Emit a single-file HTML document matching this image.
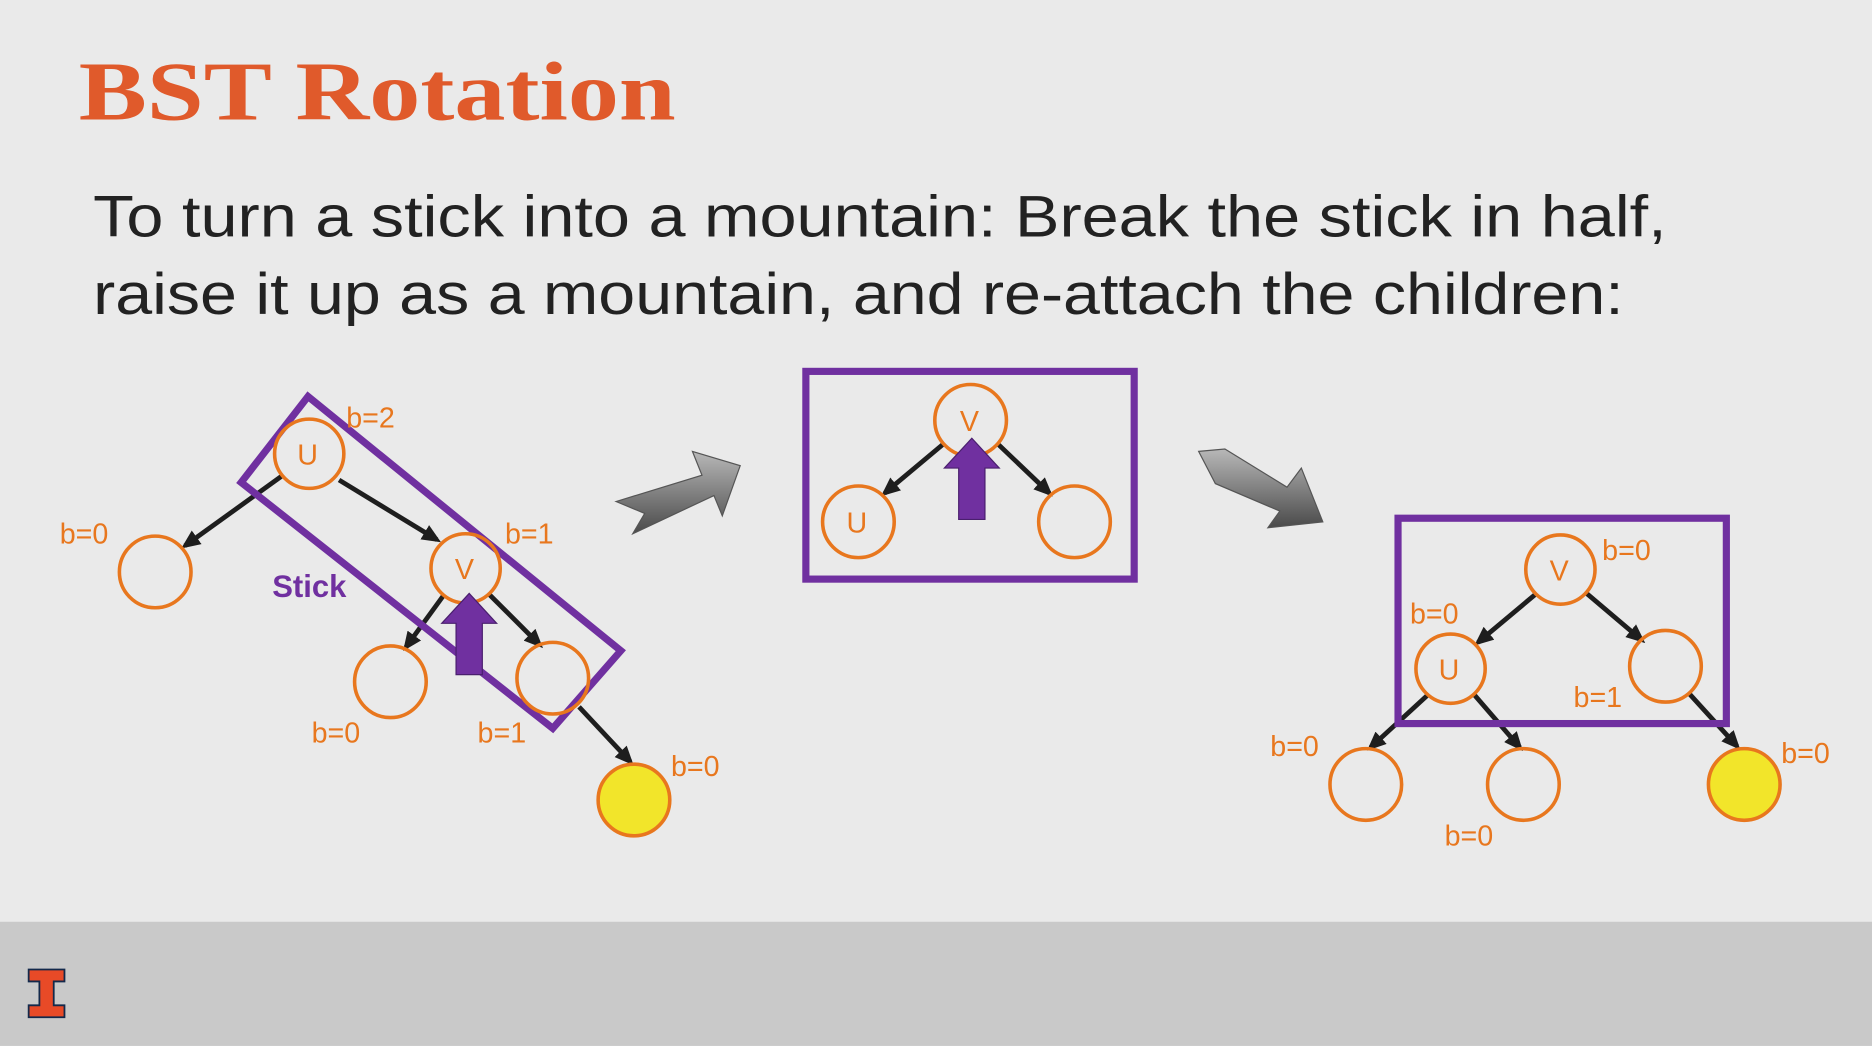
<!DOCTYPE html>
<html><head><meta charset="utf-8"><style>
html,body{margin:0;padding:0;width:1872px;height:1046px;overflow:hidden;background:#eaeaea}
svg{display:block}
text{font-family:"Liberation Sans","DejaVu Sans",sans-serif}
</style></head><body>
<svg width="1872" height="1046" viewBox="0 0 1568 876" xmlns="http://www.w3.org/2000/svg">
<defs>
<marker id="ah2" markerWidth="16" markerHeight="14" refX="12" refY="7" orient="auto" markerUnits="userSpaceOnUse">
<path d="M0,0 L16,7 L0,14 z" fill="#1e1e1e"/></marker>
<linearGradient id="gg" x1="0" y1="0" x2="0" y2="1"><stop offset="0" stop-color="#b8b8b8"/><stop offset="1" stop-color="#4a4a4a"/></linearGradient>
</defs>
<rect width="1568" height="876" fill="#eaeaea"/>
<rect x="0" y="772" width="1568" height="104" fill="#c9c9c9"/>
<g>
<path d="M24,812 H54 V822 H45 V842 H54 V852 H24 V842 H33 V822 H24 Z" fill="#e84a27" stroke="#13294b" stroke-width="1.5"/>
</g>
<text x="66" y="100" font-weight="bold" font-size="70" fill="#e05a2b" textLength="500" lengthAdjust="spacingAndGlyphs" style="font-family:'Liberation Serif',serif">BST Rotation</text>
<text x="78" y="198" font-size="49" fill="#222" textLength="1318" lengthAdjust="spacingAndGlyphs">To turn a stick into a mountain: Break the stick in half,</text>
<text x="78" y="263" font-size="49" fill="#222" textLength="1282" lengthAdjust="spacingAndGlyphs">raise it up as a mountain, and re-attach the children:</text>

<g stroke="#1e1e1e" stroke-width="4" fill="none">
<line x1="237" y1="398" x2="155" y2="457" marker-end="url(#ah2)"/>
<line x1="284" y1="402" x2="366" y2="452" marker-end="url(#ah2)"/>
<line x1="372" y1="498" x2="340" y2="542" marker-end="url(#ah2)"/>
<line x1="410" y1="498" x2="452" y2="540" marker-end="url(#ah2)"/>
<line x1="485" y1="592" x2="528" y2="638" marker-end="url(#ah2)"/>
<line x1="790" y1="372" x2="741" y2="413" marker-end="url(#ah2)"/>
<line x1="836" y1="372" x2="879" y2="413" marker-end="url(#ah2)"/>
<line x1="1287" y1="497" x2="1238" y2="538" marker-end="url(#ah2)"/>
<line x1="1329" y1="497" x2="1375" y2="536" marker-end="url(#ah2)"/>
<line x1="1196" y1="582" x2="1148" y2="626" marker-end="url(#ah2)"/>
<line x1="1235" y1="582" x2="1273" y2="626" marker-end="url(#ah2)"/>
<line x1="1415" y1="581" x2="1455" y2="625" marker-end="url(#ah2)"/>
</g>

<g fill="none" stroke="#7030a0" stroke-width="6">
<polygon points="202,404 258,332 520,545 463,610"/>
<rect x="675" y="311" width="275" height="174"/>
<rect x="1171" y="434" width="275" height="172"/>
</g>

<g stroke="#e8771e" stroke-width="3" fill="none">
<circle cx="259" cy="380" r="29"/>
<circle cx="130" cy="479" r="30"/>
<circle cx="390" cy="476" r="29"/>
<circle cx="327" cy="571" r="30"/>
<circle cx="463" cy="568" r="30"/>
<circle cx="531" cy="670" r="30" fill="#f2e52a"/>
<circle cx="813" cy="352" r="30"/>
<circle cx="719" cy="437" r="30"/>
<circle cx="900" cy="437" r="30"/>
<circle cx="1307" cy="477" r="29"/>
<circle cx="1215" cy="560" r="29"/>
<circle cx="1395" cy="558" r="30"/>
<circle cx="1144" cy="657" r="30"/>
<circle cx="1276" cy="657" r="30"/>
<circle cx="1461" cy="657" r="30" fill="#f2e52a"/>
</g>

<g fill="#7030a0">
<path d="M382,565 V522 H370 L393,497 L416,522 H404 V565 Z" stroke="#4a1f6e" stroke-width="1"/>
<path d="M803,435 V392 H791 L814,367 L837,392 H825 V435 Z" stroke="#4a1f6e" stroke-width="1"/>
</g>

<g fill="#e8771e" font-size="24">
<text x="249" y="389">U</text><text x="381" y="485">V</text>
<text x="804" y="361">V</text><text x="709" y="446">U</text>
<text x="1298" y="486">V</text><text x="1205" y="569">U</text>
<text x="290" y="358">b=2</text><text x="50" y="455">b=0</text>
<text x="423" y="455">b=1</text><text x="261" y="622">b=0</text>
<text x="400" y="622">b=1</text><text x="562" y="650">b=0</text>
<text x="1342" y="469">b=0</text><text x="1181" y="522">b=0</text>
<text x="1318" y="592">b=1</text><text x="1064" y="633">b=0</text>
<text x="1210" y="708">b=0</text><text x="1492" y="639">b=0</text>
</g>
<text x="228" y="500" font-size="26" font-weight="bold" fill="#7030a0">Stick</text>

<path d="M516,420 L588,398 L580,378 L620,390 L605,432 L598,415 L530,447 L540,430 Z" fill="url(#gg)" stroke="#555" stroke-width="1"/>
<path d="M1004,378 L1026,376 L1078,408 L1090,392 L1108,437 L1062,442 L1072,428 L1018,405 Z" fill="url(#gg)" stroke="#555" stroke-width="1"/>
</svg>
</body></html>
